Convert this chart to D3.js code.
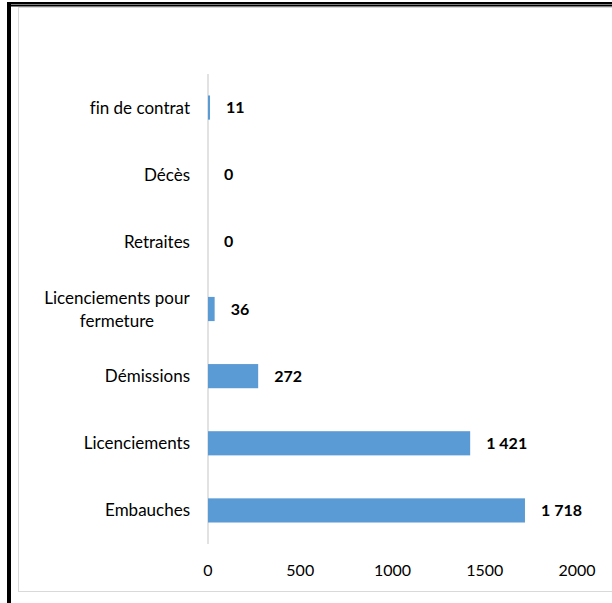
<!DOCTYPE html>
<html><head><meta charset="utf-8">
<script src="https://cdn.jsdelivr.net/npm/d3@7"></script>
<style>body{margin:0;background:#fff}svg{display:block}text{font-family:Lato,"Open Sans",sans-serif;font-variant-ligatures:none}</style>
</head><body><svg id="c" width="612" height="603"></svg>
<script>
const categories = ["Embauches","Licenciements","Démissions","Licenciements pour fermeture","Retraites","Décès","fin de contrat"];
const values = [1718,1421,272,36,0,0,11];
const valueLabels = ["1 718","1 421","272","36","0","0","11"];
const ticks = [0,500,1000,1500,2000];

const svg = d3.select("#c");
// outer frame
svg.append("rect").attr("x",7).attr("y",2).attr("width",605).attr("height",2.5).attr("fill","#000");
svg.append("rect").attr("x",11).attr("y",5).attr("width",601).attr("height",1.5).attr("fill","#000");
svg.append("rect").attr("x",7).attr("y",2).attr("width",4).attr("height",601).attr("fill","#000");
// chart area border
svg.append("rect").attr("x",18.5).attr("y",7.5).attr("width",600).attr("height",584).attr("fill","#fff").attr("stroke","#d9d9d9").attr("stroke-width",1);

const x = d3.scaleLinear().domain([0,2000]).range([208,577]);
const y = d3.scaleBand().domain(categories.slice().reverse()).range([74,544]).paddingInner(0.64).paddingOuter(0.32);

// axis line
svg.append("line").attr("x1",208).attr("x2",208).attr("y1",74).attr("y2",544).attr("stroke","#d9d9d9").attr("stroke-width",1.5);

// bars
svg.selectAll("rect.bar").data(categories).enter().append("rect").attr("class","bar")
  .attr("x",x(0)).attr("y",d=>y(d)).attr("height",y.bandwidth())
  .attr("width",(d,i)=>x(values[i])-x(0)).attr("fill","#5b9bd5");

// value labels
svg.selectAll("text.val").data(categories).enter().append("text").attr("class","val")
  .attr("x",(d,i)=>x(values[i])+16).attr("y",d=>y(d)+y.bandwidth()/2).attr("dy","0.35em")
  .attr("font-size",16).attr("font-weight","bold").attr("fill","#000")
  .text((d,i)=>valueLabels[i]);

// category labels
const catSize = 17;
categories.forEach(c=>{
  const cy = y(c)+y.bandwidth()/2;
  if(c==="Licenciements pour fermeture"){
    const t = svg.append("text").attr("font-size",catSize).attr("fill","#000").attr("text-anchor","middle");
    t.append("tspan").text("Licenciements pour").attr("x",0).attr("y",cy-11).attr("dy","0.35em");
    t.append("tspan").text("fermeture").attr("x",0).attr("y",cy+12).attr("dy","0.35em");
    const w = t.node().getBBox().width;
    t.selectAll("tspan").attr("x",190-w/2);
  } else {
    svg.append("text").attr("x",190).attr("y",cy).attr("dy","0.35em").attr("text-anchor","end")
      .attr("font-size",catSize).attr("fill","#000").text(c);
  }
});

// tick labels
svg.selectAll("text.tick").data(ticks).enter().append("text").attr("class","tick")
  .attr("x",d=>x(d)).attr("y",570).attr("dy","0.35em").attr("text-anchor","middle")
  .attr("font-size",16).attr("fill","#000").text(d=>d);
</script></body></html>
